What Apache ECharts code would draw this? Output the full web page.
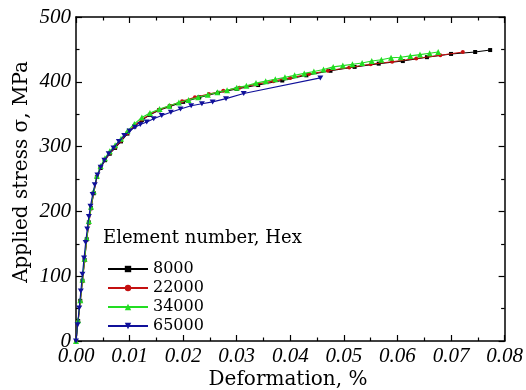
<!DOCTYPE html>
<html>
<head>
<meta charset="utf-8">
<style>
  html, body { margin: 0; padding: 0; background: #fff; }
  #chart { width: 526px; height: 390px; }
</style>
<script src="https://cdn.jsdelivr.net/npm/echarts@6/dist/echarts.min.js"></script>
</head>
<body>
<div id="chart"></div>
<script>
// Stress-strain curves for four mesh sizes (hexahedral element counts)
const seriesNames = ['8000', '22000', '34000', '65000'];

const strain8000 = [0, 0.0004, 0.0008, 0.0012, 0.0016, 0.002, 0.0024, 0.0028, 0.0033, 0.0039, 0.0046, 0.0054, 0.0063, 0.0073, 0.0084, 0.0096, 0.0109, 0.0123, 0.0138, 0.0155, 0.0175, 0.02, 0.023, 0.0265, 0.03, 0.034, 0.0385, 0.043, 0.0475, 0.052, 0.0565, 0.061, 0.0655, 0.07, 0.0745, 0.0773];
const stress8000 = [0, 31, 62, 93, 125, 157, 183, 205, 228, 253, 267, 279, 289, 298, 308, 320, 331, 341, 349, 356, 362, 369, 376, 383, 389, 395, 402, 410, 417, 423, 428, 432, 438, 443, 446, 449];

const strain22000 = [0, 0.0004, 0.0008, 0.0012, 0.0016, 0.002, 0.0024, 0.0028, 0.0033, 0.0039, 0.0046, 0.0054, 0.0063, 0.0073, 0.0084, 0.0096, 0.0109, 0.0123, 0.0138, 0.0155, 0.0175, 0.0198, 0.0222, 0.0248, 0.0275, 0.0305, 0.0335, 0.0368, 0.04, 0.0435, 0.047, 0.051, 0.055, 0.059, 0.0635, 0.068, 0.0722];
const stress22000 = [0, 30, 61, 92, 124, 156, 182, 205, 229, 253, 268, 280, 290, 299, 309, 321, 332, 342, 350, 357, 363, 370, 376, 381, 386, 391, 396, 401, 406, 412, 417, 422, 427, 431, 436, 441, 446];

const strain34000 = [0, 0.0004, 0.0008, 0.0012, 0.0016, 0.002, 0.0024, 0.0028, 0.0033, 0.0039, 0.0046, 0.0054, 0.0063, 0.0073, 0.0084, 0.0096, 0.0109, 0.0123, 0.0138, 0.0156, 0.0174, 0.0192, 0.021, 0.0228, 0.0246, 0.0264, 0.0282, 0.03, 0.0318, 0.0336, 0.0354, 0.0372, 0.039, 0.0408, 0.0426, 0.0444, 0.0462, 0.048, 0.0498, 0.0516, 0.0534, 0.0552, 0.057, 0.0588, 0.0606, 0.0624, 0.0642, 0.066, 0.0676];
const stress34000 = [0, 32, 63, 95, 127, 159, 185, 207, 231, 255, 270, 282, 293, 302, 312, 324, 335, 345, 352, 358, 363, 368, 372, 376, 380, 384, 387, 391, 394, 398, 401, 404, 407, 410, 413, 416, 419, 423, 425, 427, 429, 432, 434, 437, 438, 440, 442, 444, 446];

const strain65000 = [0, 0.0003, 0.0006, 0.0009, 0.0012, 0.0015, 0.0018, 0.0021, 0.0024, 0.0027, 0.0031, 0.0035, 0.004, 0.0046, 0.0053, 0.0061, 0.007, 0.008, 0.009, 0.01, 0.011, 0.012, 0.0132, 0.0145, 0.016, 0.0177, 0.0195, 0.0215, 0.0235, 0.0255, 0.028, 0.0313, 0.0456];
const stress65000 = [0, 25, 51, 77, 103, 128, 152, 173, 192, 208, 226, 241, 256, 268, 279, 289, 298, 308, 317, 324, 330, 334, 338, 343, 348, 353, 358, 363, 366, 369, 374, 382, 406];

const xTicks = { min: 0, max: 0.08, interval: 0.01 };
const yTicks = { min: 0, max: 500, interval: 100 };

const seriesColors = ['#000000', '#c41010', '#22dd22', '#10109a'];
const seriesSymbols = ['rect', 'circle', 'triangle', 'path://M0,0 L10,0 L5,9 Z'];
const seriesSymbolSizes = [4, 4, 6, [6, 5]];

const strains = [strain8000, strain22000, strain34000, strain65000];
const stresses = [stress8000, stress22000, stress34000, stress65000];

const FONT = 'DejaVu Serif';
const TICK_FONT = 'Liberation Serif';

function zip(xs, ys) { return xs.map((x, i) => [x, ys[i]]); }

// Each axis gets its own style objects: the four sides form a closed frame
// with ticks pointing into the plot.
function frameAxis(extra) {
  return Object.assign({
    type: 'value',
    axisLine: { show: true, onZero: false, lineStyle: { color: '#000', width: 1.5 } },
    axisTick: { show: true, inside: true, length: 6, lineStyle: { color: '#000', width: 1.2 } },
    minorTick: { show: true, splitNumber: 2, length: 3.5, lineStyle: { color: '#000', width: 1.2 } },
    splitLine: { show: false },
    minorSplitLine: { show: false }
  }, extra);
}

const chart = echarts.init(document.getElementById('chart'), null, { renderer: 'canvas' });

chart.setOption({
  animation: false,
  backgroundColor: '#fff',
  grid: { left: 76, right: 14, top: 17, bottom: 49 },
  xAxis: [
    frameAxis({
      position: 'bottom', min: xTicks.min, max: xTicks.max, interval: xTicks.interval,
      axisLabel: {
        margin: 5, color: '#000', fontFamily: TICK_FONT, fontStyle: 'italic', fontSize: 21,
        formatter: v => v.toFixed(2)
      }
    }),
    frameAxis({
      position: 'top', min: xTicks.min, max: xTicks.max, interval: xTicks.interval,
      axisLabel: { show: false }
    })
  ],
  yAxis: [
    frameAxis({
      position: 'left', min: yTicks.min, max: yTicks.max, interval: yTicks.interval,
      axisLabel: { margin: 5, color: '#000', fontFamily: TICK_FONT, fontStyle: 'italic', fontSize: 21 }
    }),
    frameAxis({
      position: 'right', min: yTicks.min, max: yTicks.max, interval: yTicks.interval,
      axisLabel: { show: false }
    })
  ],
  legend: {
    orient: 'vertical', left: 102, top: 256,
    itemWidth: 40, itemHeight: 8, itemGap: 3,
    data: seriesNames,
    textStyle: { color: '#000', fontFamily: FONT, fontSize: 16, lineHeight: 16 }
  },
  graphic: [
    { type: 'text', left: 103, top: 229,
      style: { text: 'Element number, Hex', fill: '#000', font: '18px "DejaVu Serif"' } },
    { type: 'text', x: 288, y: 380,
      style: { text: 'Deformation, %', fill: '#000', font: '20px "DejaVu Serif"', textAlign: 'center', textVerticalAlign: 'middle' } },
    { type: 'text', x: 22, y: 172, rotation: Math.PI / 2,
      style: { text: 'Applied stress σ, MPa', fill: '#000', font: '20px "DejaVu Serif"', textAlign: 'center', textVerticalAlign: 'middle' } }
  ],
  series: seriesNames.map((name, i) => ({
    name: name,
    type: 'line',
    xAxisIndex: 0,
    yAxisIndex: 0,
    data: zip(strains[i], stresses[i]),
    symbol: seriesSymbols[i],
    symbolSize: seriesSymbolSizes[i],
    showAllSymbol: true,
    color: seriesColors[i],
    itemStyle: { color: seriesColors[i] },
    lineStyle: { color: seriesColors[i], width: 1.1 },
    z: 2 + i
  }))
});
</script>
</body>
</html>
